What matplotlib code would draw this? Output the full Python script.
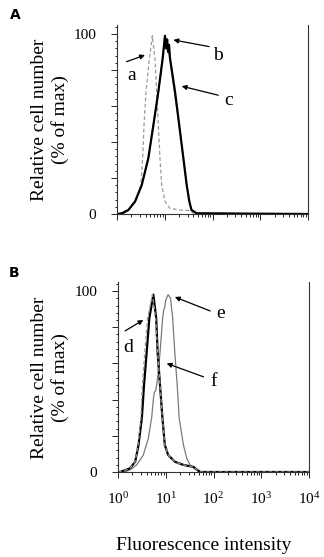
import numpy as np
import matplotlib
matplotlib.use("Agg")
import matplotlib.pyplot as plt
from matplotlib.ticker import FixedLocator, MultipleLocator, LogLocator, NullFormatter

plt.rcParams['font.family'] = 'Liberation Serif'
plt.rcParams['mathtext.fontset'] = 'custom'
plt.rcParams['mathtext.rm'] = 'Liberation Serif'

# panel A, x values given as log10(fluorescence intensity)
a_log = [0, 0.15, 0.27, 0.41, 0.50, 0.537, 0.565, 0.607, 0.677, 0.74, 0.796, 0.83, 0.866, 0.90,
         0.936, 1.005, 1.11, 1.32, 1.53, 1.62, 4]
a_pct = [0, 0.3, 3, 8, 16, 31, 49, 68, 86, 99, 86, 68, 49, 31, 16, 7, 3.1, 2.2, 1.9, 0, 0]

b_log = [0, 0.1, 0.24, 0.38, 0.52, 0.66, 0.76, 0.86, 0.95, 1.0, 1.05, 1.11, 1.21, 1.30, 1.39,
         1.46, 1.52, 1.56, 1.67, 4]
b_pct = [0, 0.4, 2.2, 7, 16, 31, 50, 66, 86, 99, 94, 86, 66, 50, 31, 16, 7, 2.2, 0.4, 0]

c_log = [0, 0.10, 0.237, 0.377, 0.517, 0.656, 0.76, 0.866, 0.957, 0.99, 1.005, 1.03, 1.05,
         1.07, 1.09, 1.11, 1.215, 1.305, 1.39, 1.46, 1.515, 1.56, 1.67, 4]
c_pct = [0, 0.4, 2.2, 6.9, 16, 31, 49, 68, 86.5, 95, 99, 92, 97, 90, 94, 86.5, 68, 49, 31,
         16, 6.9, 2.2, 0.4, 0]

# panel B
d_log = [0, 0.04, 0.25, 0.36, 0.42, 0.48, 0.51, 0.56, 0.62, 0.72, 0.79, 0.83, 0.88, 0.93,
         0.98, 1.05, 1.19, 1.37, 1.58, 1.72, 4]
d_pct = [0, 0, 2, 5.7, 15, 30, 48, 66, 85, 98, 85, 66, 48, 30, 15, 9.4, 5.7, 3.9, 2.8, 0, 0]

e_log = [0, 0.15, 0.29, 0.39, 0.53, 0.635, 0.705, 0.74, 0.76, 0.79, 0.83, 0.88, 0.935, 0.96,
         0.98, 1.0, 1.05, 1.10, 1.145, 1.19, 1.24, 1.28, 1.37, 1.44, 1.51, 1.61, 1.71, 4]
e_pct = [0, 0, 1.8, 3.9, 9.4, 18.6, 30, 40, 44, 45, 52, 66, 85, 90, 91, 95, 98, 96, 85, 66,
         48, 30, 15, 7.5, 3.9, 1.8, 0, 0]

f_log = [0, 0.04, 0.25, 0.36, 0.43, 0.50, 0.545, 0.60, 0.656, 0.74, 0.80, 0.83, 0.88, 0.93,
         0.98, 1.05, 1.19, 1.37, 1.58, 1.72, 4]
f_pct = [0, 0, 2, 5.7, 15, 30, 48, 66, 85, 98, 85, 66, 48, 30, 15, 9.4, 5.7, 3.9, 2.8, 0, 0]

# arrow labels: (text, text pos, arrow start, arrow end) in (log10 x, %)
labels_A = [("a", (0.31, 77), (0.20, 84.6), (0.586, 88.3)),
            ("b", (2.12, 88), (1.93, 93), (1.18, 96.7)),
            ("c", (2.33, 63), (2.12, 66), (1.355, 71))]
labels_B = [("d", (0.22, 69), (0.15, 78), (0.53, 84)),
            ("e", (2.14, 87.5), (1.93, 89), (1.19, 96.7)),
            ("f", (2.0, 50), (1.79, 52.6), (1.02, 60))]

W, H = 324, 557
fig = plt.figure(figsize=(W / 100, H / 100), dpi=100)
axA = fig.add_axes([117 / W, 1 - 214 / H, 191 / W, 189 / H])
axB = fig.add_axes([118 / W, 1 - 472 / H, 191 / W, 190 / H])


def style(ax, show_xlabels):
    ax.set_xscale('log')
    ax.set_xlim(1, 1e4)
    ax.set_ylim(0, 105)
    ax.spines['top'].set_visible(False)
    for s in ['left', 'right', 'bottom']:
        ax.spines[s].set_linewidth(0.8)
        ax.spines[s].set_color('#333333')
    ax.yaxis.set_major_locator(FixedLocator([0, 20, 40, 60, 80, 100]))
    ax.yaxis.set_minor_locator(MultipleLocator(4))
    ax.set_yticklabels(['0', '', '', '', '', '100'])
    ax.tick_params(axis='y', which='major', direction='out', length=4, width=0.6,
                   labelsize=11, pad=11)
    ax.tick_params(axis='y', which='minor', direction='out', length=1.5, width=0.6)
    ax.xaxis.set_major_locator(LogLocator(base=10, numticks=10))
    ax.xaxis.set_minor_locator(LogLocator(base=10, subs=np.arange(2, 10), numticks=10))
    ax.xaxis.set_minor_formatter(NullFormatter())
    ax.tick_params(axis='x', which='major', direction='out', length=4, width=0.6,
                   labelsize=11, pad=10)
    ax.tick_params(axis='x', which='minor', direction='out', length=2, width=0.6)
    if not show_xlabels:
        ax.set_xticklabels([])
    ax.tick_params(right=False)


def arrows(ax, items):
    for txt, tp, st, en in items:
        ax.annotate('', xy=(10 ** en[0], en[1]), xytext=(10 ** st[0], st[1]),
                    arrowprops=dict(arrowstyle='-|>', color='black', lw=0.9,
                                    mutation_scale=7, shrinkA=0, shrinkB=0))
        ax.text(10 ** tp[0], tp[1], txt, fontsize=14, ha='center', va='center')


axA.plot(10 ** np.array(a_log), a_pct, color='#999999', lw=0.9, ls=(0, (3, 2)))
axA.plot(10 ** np.array(b_log), b_pct, color='#8c8c8c', lw=0.9)
axA.plot(10 ** np.array(c_log), c_pct, color='black', lw=1.6)
style(axA, False)
arrows(axA, labels_A)

axB.plot(10 ** np.array(e_log), e_pct, color='#7a7a7a', lw=0.9)
axB.plot(10 ** np.array(f_log), f_pct, color='black', lw=1.6)
axB.plot(10 ** np.array(d_log), d_pct, color='#999999', lw=0.9, ls=(0, (3, 2)))
style(axB, True)
arrows(axB, labels_B)

for yc in [(25 + 214) / 2, (283 + 472) / 2]:
    fig.text(50 / W, 1 - yc / H, "Relative cell number\n(% of max)", rotation=90,
             ha='center', va='center', multialignment='center', fontsize=14,
             linespacing=1.15)

fig.text(204 / W, 1 - 545 / H, "Fluorescence intensity", ha='center', va='center',
         fontsize=14)
fig.text(15 / W, 1 - 15 / H, "A", family='DejaVu Sans', fontweight='bold', fontsize=10,
         ha='center', va='center')
fig.text(14 / W, 1 - 273 / H, "B", family='DejaVu Sans', fontweight='bold', fontsize=10,
         ha='center', va='center')

fig.savefig('out.png', dpi=100)
